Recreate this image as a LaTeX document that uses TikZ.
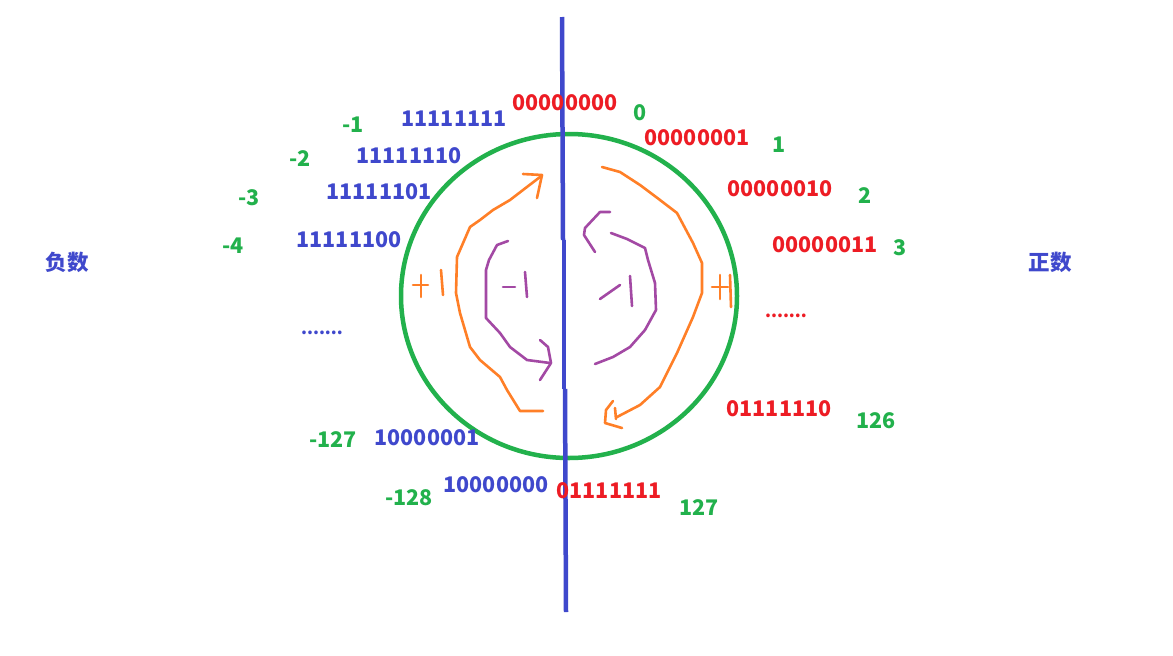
\documentclass[tikz,border=0pt]{standalone}
\usepackage{fontspec}
\setmainfont{Noto Sans CJK SC}
\definecolor{pblue}{HTML}{3F48CC}
\definecolor{pred}{HTML}{ED1C24}
\definecolor{pgreen}{HTML}{22B14C}
\definecolor{porange}{HTML}{FF7F27}
\definecolor{ppurple}{HTML}{A349A4}
\begin{document}
\begin{tikzpicture}[x=1pt,y=-1pt,
  lbl/.style={inner sep=0pt,font=\fontsize{21.5}{24}\selectfont\bfseries},
  negbin/.style={lbl,text=pblue},
  posbin/.style={lbl,text=pred},
  numval/.style={lbl,text=pgreen},
  ostroke/.style={draw=porange,line width=2.6pt,line cap=round,line join=round},
  pstroke/.style={draw=ppurple,line width=2.6pt,line cap=round,line join=round}]
\useasboundingbox[fill=white] (0,0) rectangle (1173,656);
% circle
\draw[pgreen,line width=4.5pt] (569,296) ellipse [x radius=168, y radius=162];
% axis
\draw[pblue,line width=4.5pt] (562,17) -- (563,240);
\draw[pblue,line width=4.5pt] (564,240) -- (564,389);
\draw[pblue,line width=4.5pt] (565,389) -- (566,612);
% right labels
\node[posbin] (b0) at (565,103) {00000000};
\node[numval] (v0) at (640,113) {0};
\node[posbin] (b1) at (697,138) {00000001};
\node[numval] (v1) at (779,145) {1};
\node[posbin] (b2) at (780,189) {00000010};
\node[numval] (v2) at (865,196) {2};
\node[posbin] (b3) at (825,245) {00000011};
\node[numval] (v3) at (900,248) {3};
\node[posbin,font=\fontsize{17}{20}\selectfont\bfseries] (dr) at (786,316) {.......};
\node[posbin] (b126) at (779,409) {01111110};
\node[numval] (v126) at (876,421) {126};
\node[posbin] (b127) at (609,491) {01111111};
\node[numval] (v127) at (699,508) {127};
% left labels
\node[negbin] (b128) at (496,485) {10000000};
\node[numval] (v128) at (409,498) {-128};
\node[negbin] (b129) at (427,438) {10000001};
\node[numval] (v129) at (333,440) {-127};
\node[negbin,font=\fontsize{17}{20}\selectfont\bfseries] (dl) at (322,333) {.......};
\node[negbin] (b252) at (349,240) {11111100};
\node[numval] (vm4) at (233,246) {-4};
\node[negbin] (b253) at (379,192) {11111101};
\node[numval] (vm3) at (249,198) {-3};
\node[negbin] (b254) at (409,156) {11111110};
\node[numval] (vm2) at (300,159) {-2};
\node[negbin] (b255) at (454,119) {11111111};
\node[numval] (vm1) at (353,125) {-1};
\node[negbin] (neg) at (67,262) {负数};
\node[negbin] (posl) at (1050,262) {正数};
% left orange arc with arrow
\draw[ostroke] (543,411) -- (520,411) -- (507,390) -- (500,377) -- (480,360) -- (470,347) -- (460,313) -- (456,293) -- (457,257) -- (470,227) -- (480,220) -- (493,210) -- (510,200) -- (523,190) -- (540,177);
\draw[ostroke] (523,174) -- (542,175) -- (537,198);
% left +1
\draw[ostroke] (413,285) -- (428,285);
\draw[ostroke] (421,275) -- (421,297);
\draw[ostroke] (441,270) -- (443,295);
% left purple arc
\draw[pstroke] (508,241) -- (497,245) -- (489,260) -- (486,270) -- (486,318) -- (500,333) -- (510,347) -- (527,360) -- (550,363);
\draw[pstroke] (540,340) -- (548,347) -- (551,363) -- (540,380);
% left -1
\draw[pstroke] (503,287) -- (515,287);
\draw[pstroke] (525,272) -- (527,297);
% right purple hook
\draw[pstroke] (610,212) -- (600,212) -- (585,228) -- (584,235) -- (595,252);
% right purple arc
\draw[pstroke] (611,233) -- (627,239) -- (645,248) -- (648,260) -- (655,283) -- (656,310) -- (645,330) -- (630,347) -- (613,357) -- (595,364);
% right -1
\draw[pstroke] (600,299) -- (620,285);
\draw[pstroke] (630,276) -- (632,306);
% right orange arc with arrow
\draw[ostroke] (602,167) -- (620,172) -- (640,185) -- (660,200) -- (677,213) -- (693,243) -- (702,263) -- (702,293) -- (693,317) -- (677,353) -- (660,387) -- (640,405) -- (617,417);
\draw[ostroke] (615,408) -- (616,419);
\draw[ostroke] (613,401) -- (606,410) -- (605,423) -- (622,428);
% right +1
\draw[ostroke] (712,287) -- (728,287);
\draw[ostroke] (720,275) -- (720,299);
\draw[ostroke] (730,275) -- (731,307);
\end{tikzpicture}
\end{document}
